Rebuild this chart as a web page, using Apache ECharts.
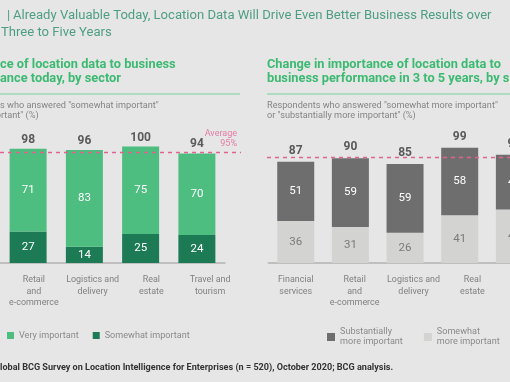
<!DOCTYPE html>
<html><head><meta charset="utf-8">
<script src="https://cdn.jsdelivr.net/npm/echarts@6/dist/echarts.min.js"></script>
<style>html,body{margin:0;padding:0;background:#e6e6e6}#c{width:510px;height:382px}</style>
</head><body><div id="c"></div>
<script>
// ---- data ----
const leftCategories = ['Retail and e-commerce', 'Logistics and delivery', 'Real estate', 'Travel and tourism'];
const leftTickLabels = ['Retail\nand\ne-commerce', 'Logistics and\ndelivery', 'Real\nestate', 'Travel and\ntourism'];
const leftSomewhat = [27, 14, 25, 24];
const leftVery = [71, 83, 75, 70];
const leftTotals = [98, 96, 100, 94];
const leftAverage = 95;

const rightCategories = ['Financial services', 'Retail and e-commerce', 'Logistics and delivery', 'Real estate', 'Travel and tourism'];
const rightTickLabels = ['Financial\nservices', 'Retail\nand\ne-commerce', 'Logistics and\ndelivery', 'Real\nestate', 'Travel and\ntourism'];
const rightSomewhatMore = [36, 31, 26, 41, 46];
const rightSubstantially = [51, 59, 59, 58, 47];
const rightTotals = [87, 90, 85, 99, 93];
const rightAverage = 91;

// ---- style ----
const FAM = 'Roboto';
const FONT = 'Roboto, sans-serif';
const cLight = '#4dbd80', cDark = '#1c7a55', cGrayDark = '#6e6e6e', cGrayLight = '#d3d3d1';
const ctx = document.createElement('canvas').getContext('2d');
function w(t, size, weight) { ctx.font = (weight || 'normal') + ' ' + size + 'px ' + FAM; return ctx.measureText(t).width; }
function fit(t, target, weight) { return 10 * target / w(t, 10, weight); }

const titleSize = fit('Already Valuable Today, Location Data Will Drive Even Better Business Results over', 479);
const subSize = fit('Change in importance of location data to', 234, 'bold');
const descSize = fit('Respondents who answered "somewhat more important"', 231);
const srcText = 'Source: Global BCG Survey on Location Intelligence for Enterprises (n = 520), October 2020; BCG analysis.';
const srcSize = fit('lobal BCG Survey on Location Intelligence for Enterprises (n = 520), October 2020; BCG analysis.', 394, 'bold');
const catSize = fit('Logistics and', 53);
const legSize = fit('Somewhat important', 85);

const chart = echarts.init(document.getElementById('c'));
const top0 = 146.5, h0 = 116.5;

function valLabel(color) { return { show: true, position: 'inside', color: color, fontSize: 11.5, fontFamily: FONT }; }
function totalSeries(stack, xi, totals, dist) {
  return { type: 'bar', stack: stack, xAxisIndex: xi, yAxisIndex: xi, barWidth: 37, data: totals.map(() => 0),
    itemStyle: { color: 'transparent' }, silent: true,
    label: { show: true, position: 'top', distance: dist, color: '#5a5a5a', fontSize: 12, fontWeight: 'bold', fontFamily: FONT,
      formatter: p => totals[p.dataIndex] } };
}
const dash = { color: '#e0648e', type: [4, 4], width: 1.4 };

const tc = '#4e9e82', sc = '#3dba72', dc = '#858585';
const g = [];
g.push({ type: 'text', left: -5, top: 9, style: { text: '1', fill: tc, font: titleSize + 'px ' + FONT } });
g.push({ type: 'text', left: 7, top: 9, style: { text: '|', fill: tc, font: titleSize + 'px ' + FONT } });
g.push({ type: 'text', left: 13, top: 9, style: { text: 'Already Valuable Today, Location Data Will Drive Even Better Business Results over', fill: tc, font: titleSize + 'px ' + FONT } });
g.push({ type: 'text', left: 1, top: 26, style: { text: 'Three to Five Years', fill: tc, font: titleSize + 'px ' + FONT } });
g.push({ type: 'text', left: -w('Importan', subSize, 'bold'), top: 58, style: { text: 'Importance of location data to business', fill: sc, font: 'bold ' + subSize + 'px ' + FONT } });
g.push({ type: 'text', left: -w('perform', subSize, 'bold'), top: 72, style: { text: 'performance today, by sector', fill: sc, font: 'bold ' + subSize + 'px ' + FONT } });
g.push({ type: 'text', left: 267, top: 58, style: { text: 'Change in importance of location data to', fill: sc, font: 'bold ' + subSize + 'px ' + FONT } });
g.push({ type: 'text', left: 267, top: 72, style: { text: 'business performance in 3 to 5 years, by sector', fill: sc, font: 'bold ' + subSize + 'px ' + FONT } });
g.push({ type: 'line', shape: { x1: 0, y1: 94, x2: 240, y2: 94 }, style: { stroke: '#9ad8b3', lineWidth: 1.5 } });
g.push({ type: 'line', shape: { x1: 267, y1: 94, x2: 510, y2: 94 }, style: { stroke: '#9ad8b3', lineWidth: 1.5 } });
g.push({ type: 'text', left: -w('Respondent', descSize), top: 101.5, style: { text: 'Respondents who answered "somewhat important"', fill: dc, font: descSize + 'px ' + FONT } });
g.push({ type: 'text', left: 1 - w('or "very impo', descSize), top: 111.5, style: { text: 'or "very important" (%)', fill: dc, font: descSize + 'px ' + FONT } });
g.push({ type: 'text', left: 267, top: 101.5, style: { text: 'Respondents who answered "somewhat more important"', fill: dc, font: descSize + 'px ' + FONT } });
g.push({ type: 'text', left: 267, top: 111.5, style: { text: 'or "substantially more important" (%)', fill: dc, font: descSize + 'px ' + FONT } });
g.push({ type: 'text', left: -w('Source: G', srcSize, 'bold'), top: 363, style: { text: srcText, fill: '#333', font: 'bold ' + srcSize + 'px ' + FONT } });

const hiddenY = gi => ({ type: 'value', gridIndex: gi, min: 0, max: 100, show: false });
const labelStyle = { color: '#808080', fontSize: catSize, lineHeight: 11.7, margin: 11, fontFamily: FONT, interval: 0 };
const labelAxis = (gi, data, ticks) => ({ type: 'category', gridIndex: gi, data: data, axisLine: { show: false }, axisTick: { show: false },
  axisLabel: { ...labelStyle, formatter: (v, i) => ticks[i] } });
const barAxis = (gi, data) => ({ type: 'category', gridIndex: gi, data: data, axisLine: { lineStyle: { color: '#b3b3b3', width: 1.5 } },
  axisTick: { show: false }, axisLabel: { show: false } });
const grid = (left, width) => ({ left: left, top: top0, width: width, height: h0, outerBoundsMode: 'none', containLabel: false });

chart.setOption({
  backgroundColor: '#e6e6e6',
  animation: false,
  graphic: g,
  grid: [grid(0, 225), grid(4.5, 235), grid(268.4, 273.3), grid(266.3, 294.5)],
  xAxis: [barAxis(0, leftCategories), labelAxis(1, leftCategories, leftTickLabels),
          barAxis(2, rightCategories), labelAxis(3, rightCategories, rightTickLabels)],
  yAxis: [hiddenY(0), hiddenY(1), hiddenY(2), hiddenY(3)],
  legend: [
    { left: 2, top: 326, icon: 'rect', itemWidth: 7, itemHeight: 7, itemGap: 14, data: ['Very important', 'Somewhat important'],
      textStyle: { color: '#8a8a8a', fontSize: legSize, fontFamily: FONT } },
    { left: 322, top: 322, width: 300, icon: 'rect', itemWidth: 8, itemHeight: 8, itemGap: 21, data: ['Substantially more important', 'Somewhat more important'],
      formatter: n => n.replace(' more', '\nmore'),
      textStyle: { color: '#8a8a8a', fontSize: legSize, lineHeight: 10, fontFamily: FONT } }
  ],
  series: [
    { name: 'Somewhat important', type: 'bar', stack: 'L', xAxisIndex: 0, yAxisIndex: 0, barWidth: 37, data: leftSomewhat,
      itemStyle: { color: cDark }, label: valLabel('#fff'),
      markLine: { symbol: 'none', silent: true, lineStyle: dash,
        label: { show: true, position: 'insideEndTop', distance: 4, formatter: 'Average\n' + leftAverage + '%', color: '#e57ba3', fontSize: 9, lineHeight: 10, fontFamily: FONT, align: 'right' },
        data: [[{ yAxis: leftAverage, x: 0 }, { yAxis: leftAverage, x: 241 }]] } },
    { name: 'Very important', type: 'bar', stack: 'L', xAxisIndex: 0, yAxisIndex: 0, barWidth: 37, data: leftVery,
      itemStyle: { color: cLight }, label: valLabel('#fff') },
    totalSeries('L', 0, leftTotals, 3),
    { name: 'Somewhat more important', type: 'bar', stack: 'R', xAxisIndex: 2, yAxisIndex: 2, barWidth: 37, data: rightSomewhatMore,
      itemStyle: { color: cGrayLight }, label: valLabel('#7a7a7a'),
      markLine: { symbol: 'none', silent: true, lineStyle: dash, label: { show: false },
        data: [[{ yAxis: rightAverage, x: 267 }, { yAxis: rightAverage, x: 510 }]] } },
    { name: 'Substantially more important', type: 'bar', stack: 'R', xAxisIndex: 2, yAxisIndex: 2, barWidth: 37, data: rightSubstantially,
      itemStyle: { color: cGrayDark }, label: valLabel('#fff') },
    totalSeries('R', 2, rightTotals, 5)
  ]
});
</script></body></html>
